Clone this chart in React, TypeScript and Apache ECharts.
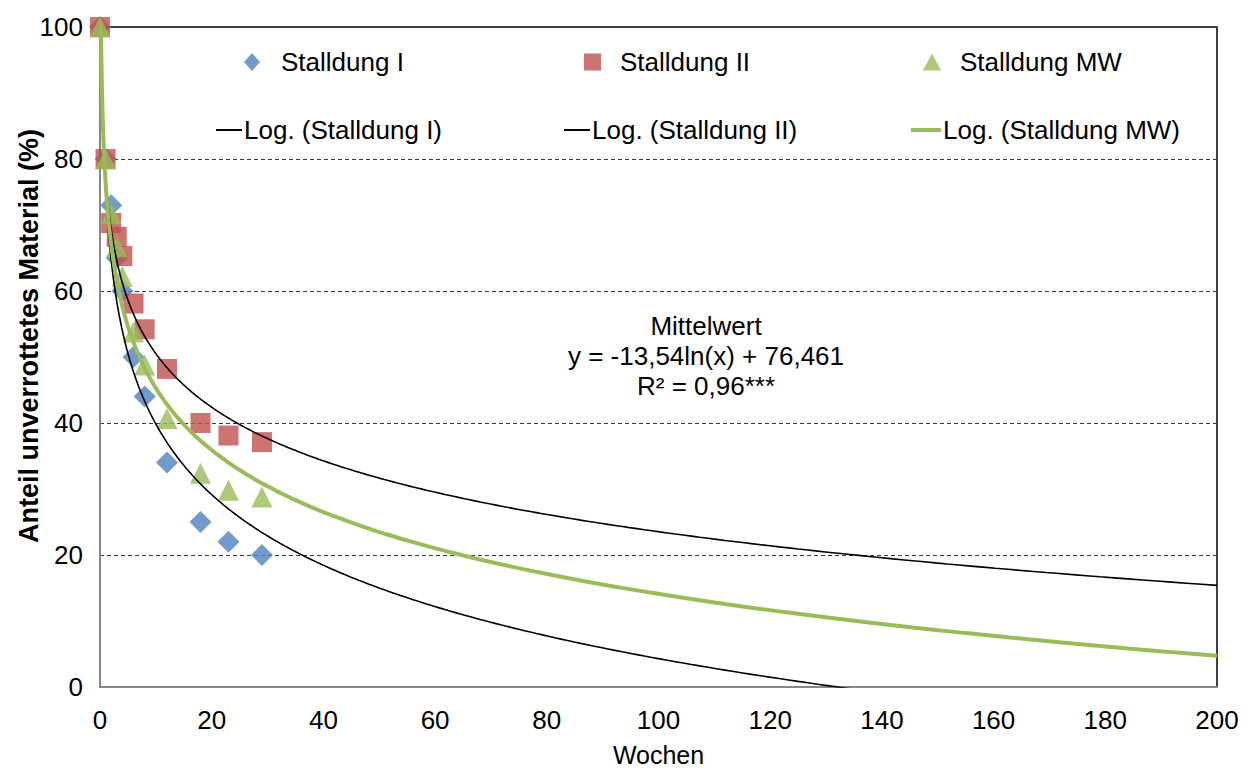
import React, { useEffect, useRef } from "react";
import * as echarts from "echarts";

// Sampling weeks
const weeks = [0, 1, 2, 3, 4, 6, 8, 12, 18, 23, 29];

// Share of undecomposed material (%)
const stalldungI = [100, 80, 73, 65, 60, 50, 44, 34, 25, 22, 20];
const stalldungII = [100, 80, 70.3, 68.2, 65.3, 58.1, 54.2, 48.2, 40, 38.1, 37.1];
const stalldungMW = [100, 80, 71.7, 66.7, 62.2, 53.8, 48.8, 40.7, 32.4, 29.8, 28.8];

// Logarithmic trend coefficients: y = slope * ln(x) + intercept
const trendI = [-15.44, 75.4];
const trendII = [-11.72, 77.5];
const trendMW = [-13.54, 76.461];

const xTicks = [0, 20, 40, 60, 80, 100, 120, 140, 160, 180, 200];
const yTicks = [0, 20, 40, 60, 80, 100];

const yAxisTitle = "Anteil unverrottetes Material (%)";
const annotationLines = ["Mittelwert", "y = -13,54ln(x) + 76,461", "R² = 0,96***"];

const FONT = "'Liberation Sans', Arial, sans-serif";
const BLUE = "#4F81BD";
const RED = "#C0504D";
const GREEN = "#9BBB59";

function trendCurve(coef: number[]): number[][] {
  const pts: number[][] = [];
  const n = 600;
  const lo = Math.log(0.05);
  const hi = Math.log(200);
  for (let i = 0; i <= n; i++) {
    const x = Math.exp(lo + ((hi - lo) * i) / n);
    pts.push([x, coef[0] * Math.log(x) + coef[1]]);
  }
  return pts;
}

const pairs = (ys: number[]) => weeks.map((w, i) => [w, ys[i]]);

export default function App() {
  const ref = useRef<HTMLDivElement>(null);

  useEffect(() => {
    document.body.style.margin = "0";
    if (!ref.current) return;
    const chart = echarts.init(ref.current, undefined, { renderer: "svg" });

    const legendText = { fontSize: 26, color: "#000", fontFamily: FONT };

    const option: any = {
      animation: false,
      backgroundColor: "#fff",
      textStyle: { fontFamily: FONT },
      grid: {
        left: 100,
        right: 33,
        top: 27,
        bottom: 84,
        containLabel: false,
        outerBoundsMode: "none",
        show: true,
        borderColor: "#000",
        borderWidth: 1.5,
      },
      legend: [
        {
          left: 239,
          top: 44,
          itemWidth: 16,
          itemHeight: 18,
          textStyle: { ...legendText, padding: [0, 0, 0, 16] },
          data: [{ name: "Stalldung I", icon: "diamond" }],
        },
        {
          left: 579,
          top: 44,
          itemWidth: 17,
          itemHeight: 17,
          textStyle: { ...legendText, padding: [0, 0, 0, 14] },
          data: [{ name: "Stalldung II", icon: "rect" }],
        },
        {
          left: 918,
          top: 44,
          itemWidth: 18,
          itemHeight: 17,
          textStyle: { ...legendText, padding: [0, 0, 0, 14] },
          data: [{ name: "Stalldung MW", icon: "triangle" }],
        },
        {
          left: 211,
          top: 112,
          itemWidth: 26,
          itemHeight: 2,
          textStyle: { ...legendText, padding: [0, 0, 0, -3] },
          data: [{ name: "Log. (Stalldung I)", icon: "rect", itemStyle: { color: "#000" } }],
        },
        {
          left: 559,
          top: 112,
          itemWidth: 26,
          itemHeight: 2,
          textStyle: { ...legendText, padding: [0, 0, 0, -3] },
          data: [{ name: "Log. (Stalldung II)", icon: "rect", itemStyle: { color: "#000" } }],
        },
        {
          left: 906,
          top: 112,
          itemWidth: 30,
          itemHeight: 4,
          textStyle: { ...legendText, padding: [0, 0, 0, -3] },
          data: [{ name: "Log. (Stalldung MW)", icon: "rect", itemStyle: { color: GREEN } }],
        },
      ],
      xAxis: {
        type: "value",
        min: xTicks[0],
        max: xTicks[xTicks.length - 1],
        interval: 20,
        name: "Wochen",
        nameLocation: "middle",
        nameGap: 55,
        nameTextStyle: { fontSize: 25, color: "#000", fontFamily: FONT },
        axisLine: { show: true, lineStyle: { color: "#868686", width: 2 } },
        axisTick: { show: false },
        axisLabel: { fontSize: 26, color: "#000", margin: 20, fontFamily: FONT },
        splitLine: { show: false },
      },
      yAxis: {
        type: "value",
        min: yTicks[0],
        max: yTicks[yTicks.length - 1],
        interval: 20,
        axisLine: { show: true, lineStyle: { color: "#868686", width: 2 } },
        axisTick: { show: false },
        axisLabel: { fontSize: 26, color: "#000", margin: 17, fontFamily: FONT },
        splitLine: { show: true, lineStyle: { color: "#3a3a3a", width: 1, type: [4, 3] } },
      },
      series: [
        {
          name: "Stalldung I",
          type: "scatter",
          symbol: "diamond",
          symbolSize: [22, 22],
          itemStyle: { color: BLUE },
          data: pairs(stalldungI),
          z: 2,
        },
        {
          name: "Stalldung II",
          type: "scatter",
          symbol: "rect",
          symbolSize: 20,
          itemStyle: { color: RED },
          data: pairs(stalldungII),
          z: 3,
        },
        {
          name: "Stalldung MW",
          type: "scatter",
          symbol: "triangle",
          symbolSize: [21, 21],
          itemStyle: { color: GREEN },
          data: pairs(stalldungMW),
          z: 4,
        },
        {
          name: "Log. (Stalldung I)",
          type: "line",
          showSymbol: false,
          symbol: "none",
          clip: true,
          itemStyle: { color: "#000" },
          lineStyle: { color: "#000", width: 1.6 },
          data: trendCurve(trendI),
          z: 5,
        },
        {
          name: "Log. (Stalldung II)",
          type: "line",
          showSymbol: false,
          symbol: "none",
          clip: true,
          itemStyle: { color: "#000" },
          lineStyle: { color: "#000", width: 1.6 },
          data: trendCurve(trendII),
          z: 5,
        },
        {
          name: "Log. (Stalldung MW)",
          type: "line",
          showSymbol: false,
          symbol: "none",
          clip: true,
          itemStyle: { color: GREEN },
          lineStyle: { color: GREEN, width: 4 },
          data: trendCurve(trendMW),
          z: 6,
        },
      ],
      graphic: [
        {
          type: "text",
          x: 706,
          y: 311,
          style: {
            text: annotationLines.join("\n"),
            fontSize: 26,
            lineHeight: 30,
            fill: "#000",
            fontFamily: FONT,
            align: "center",
            verticalAlign: "top",
          },
        },
        {
          type: "text",
          x: 29,
          y: 336,
          rotation: Math.PI / 2,
          style: {
            text: yAxisTitle,
            fontSize: 27,
            fontWeight: "bold",
            fill: "#000",
            fontFamily: FONT,
            align: "center",
            verticalAlign: "middle",
          },
        },
      ],
    };

    chart.setOption(option);
    return () => chart.dispose();
  }, []);

  return <div ref={ref} style={{ width: 1250, height: 771 }} />;
}
